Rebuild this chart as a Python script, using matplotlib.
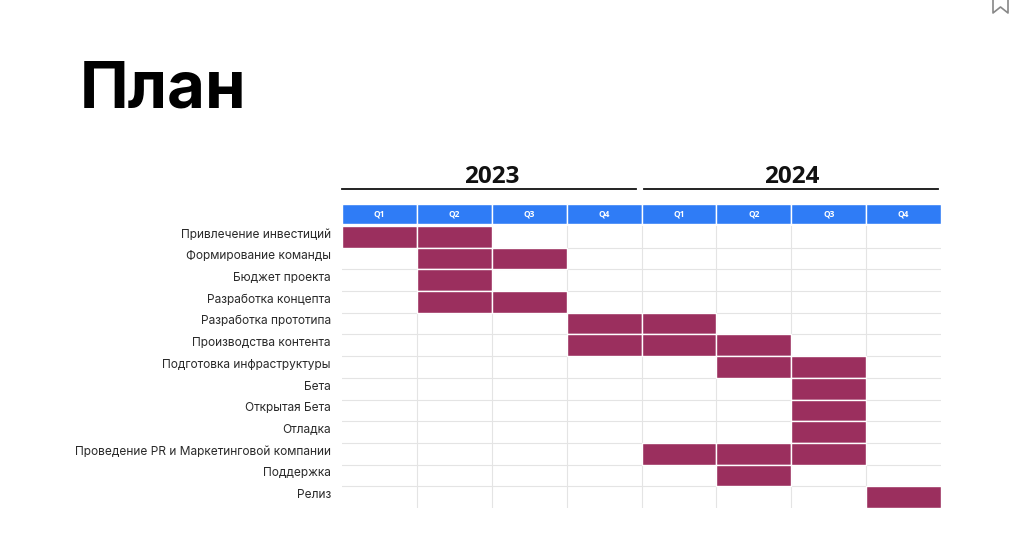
import matplotlib.pyplot as plt
from matplotlib.lines import Line2D

# Tasks, top to bottom, with quarter spans (0 = Q1 2023 ... 7 = Q4 2024)
tasks = [
    "Привлечение инвестиций",
    "Формирование команды",
    "Бюджет проекта",
    "Разработка концепта",
    "Разработка прототипа",
    "Производства контента",
    "Подготовка инфраструктуры",
    "Бета",
    "Открытая Бета",
    "Отладка",
    "Проведение PR и Маркетинговой компании",
    "Поддержка",
    "Релиз",
]
start_q = [0, 1, 1, 1, 3, 3, 5, 6, 6, 6, 4, 5, 7]
end_q = [1, 2, 1, 2, 4, 5, 6, 6, 6, 6, 6, 5, 7]

years = ["2023", "2024"]
quarters = ["Q1", "Q2", "Q3", "Q4"]

bar_color = "#9b2f5e"
head_color = "#2f7cf6"
grid_color = "#e4e4e4"

W, H = 1024, 544
fig = plt.figure(figsize=(W / 100, H / 100), dpi=100)

def fx(px):
    return px / W

def fy(py):
    return 1 - py / H

# Title
fig.text(fx(80), fy(91), "План", fontsize=47, fontweight="bold",
         family="Inter", va="center", ha="left", color="#000000")

# Bookmark icon in the corner
fig.add_artist(Line2D([fx(993), fx(993), fx(1000.5), fx(1008), fx(1008)],
                      [fy(0), fy(13), fy(7), fy(13), fy(0)],
                      color="#888888", lw=1.2))

# Main grid axes: x in quarters, y in rows
row_h = (508 - 226) / 13
top = 204
bottom = 508
ax = fig.add_axes([fx(342), fy(bottom), fx(941) - fx(342), (bottom - top) / H])
y_top = (top - 226) / row_h
ax.set_xlim(0, 8)
ax.set_ylim(13, y_top)
ax.axis("off")

n_cols = len(years) * len(quarters)

# Grid lines
for i in range(1, 13):
    ax.plot([0, n_cols], [i, i], color=grid_color, lw=0.8, zorder=1)
for c in range(1, n_cols):
    ax.plot([c, c], [0, 13], color=grid_color, lw=0.8, zorder=1)

# Quarter header
head_bottom = (224 - 226) / row_h
for c in range(n_cols):
    ax.barh((y_top + head_bottom) / 2, 1, left=c, height=head_bottom - y_top,
            color=head_color, edgecolor="white", lw=1, zorder=2)
    ax.text(c + 0.5, (y_top + head_bottom) / 2, quarters[c % 4],
            color="white", fontsize=6, fontweight="bold", family="Open Sans",
            ha="center", va="center", zorder=3)

# Task bars, one cell per quarter
for i, (s, e) in enumerate(zip(start_q, end_q)):
    for q in range(s, e + 1):
        ax.barh(i + 0.5, 1, left=q, height=1, color=bar_color,
                edgecolor="white", lw=1, zorder=2)

# Task labels
for i, name in enumerate(tasks):
    ax.text(-0.15, i + 0.4, name, ha="right", va="center", fontsize=8.6,
            family="Inter", color="#2a2a2a")

# Year headers with underline
for k, yr in enumerate(years):
    x0 = k * 4
    ax.text(x0 + 2, y_top - (204 - 177) / row_h, yr, ha="center", va="center",
            fontsize=17.5, fontweight="bold", family="Open Sans", color="#111111",
            clip_on=False)
    ax.plot([x0, x0 + 3.93] if k == 0 else [x0 + 0.03, x0 + 3.96],
            [y_top - (204 - 189) / row_h] * 2, color="#111111", lw=1.3,
            clip_on=False)

fig.savefig("out.png", dpi=100, facecolor="white")
